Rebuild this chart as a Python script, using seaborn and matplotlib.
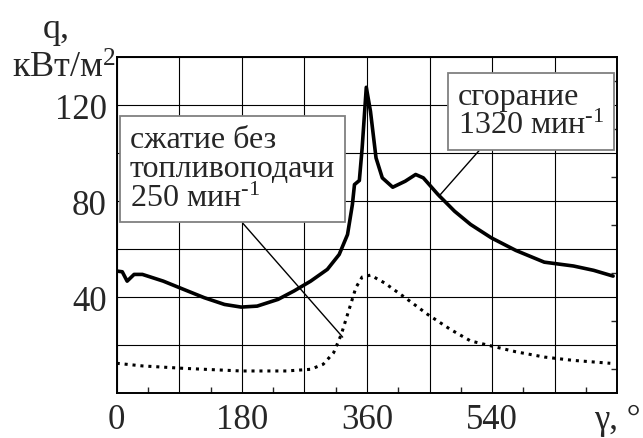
import numpy as np
import pandas as pd
import seaborn as sns
from matplotlib import pyplot as plt
from matplotlib.ticker import MultipleLocator

# combustion, 1320 rpm (solid)
angle_fire = [0, 8, 15, 25, 37, 67, 96, 126, 155, 179, 202, 232, 255, 279, 303,
              320, 332, 339, 342, 349, 353, 359, 365, 373, 382, 397, 415, 430,
              441, 462, 486, 509, 539, 574, 615, 657, 686, 714]
q_fire = [50.9, 50.6, 46.7, 49.5, 49.5, 46.7, 43.3, 39.8, 37.0, 35.9, 36.3, 39.1,
          42.6, 46.7, 51.6, 57.8, 66.1, 78.6, 86.9, 88.6, 102.0, 127.4, 117.4,
          98.0, 89.7, 85.8, 88.3, 91.1, 89.7, 82.8, 75.8, 70.3, 64.7, 59.5,
          54.6, 53.0, 51.2, 48.8]

# motoring without fuel, 250 rpm (dotted)
angle_motor = [0, 37, 96, 179, 244, 279, 297, 312, 323, 335, 344, 353, 365, 385,
               415, 447, 480, 509, 539, 574, 615, 657, 710]
q_motor = [12.5, 11.4, 10.4, 9.3, 9.3, 10.0, 12.1, 16.9, 24.5, 35.6, 44.0, 48.4,
           49.2, 46.0, 39.8, 32.9, 26.6, 21.8, 19.7, 17.3, 15.1, 13.7, 12.5]

x_ticks = list(range(0, 721, 90))
x_labels = ['0', '', '180', '', '360', '', '540', '', 'γ, °']
y_ticks = list(range(0, 141, 20))
y_labels = ['', '', '40', '', '80', '', '120', '']

fire = pd.DataFrame({'angle': angle_fire, 'q': q_fire})
motor = pd.DataFrame({'angle': angle_motor, 'q': q_motor})

sns.set_style('white')
plt.rcParams['font.family'] = ['Liberation Serif', 'DejaVu Serif']
plt.rcParams['mathtext.fontset'] = 'custom'
plt.rcParams['mathtext.rm'] = 'Liberation Serif'
plt.rcParams['mathtext.it'] = 'Liberation Serif:italic'
plt.rcParams['mathtext.bf'] = 'Liberation Serif:bold'

fig = plt.figure(figsize=(6.43, 4.39), dpi=100)
ax = fig.add_axes([0.1815, 0.1018, 0.7785, 0.766])

sns.lineplot(data=fire, x='angle', y='q', ax=ax, color='black', lw=2.6)
sns.lineplot(data=motor, x='angle', y='q', ax=ax, color='black', lw=2.2)
ax.lines[-1].set_linestyle((0, (1, 1.6)))

ax.set_xlim(0, 720)
ax.set_ylim(0, 140)
ax.set_xticks(x_ticks)
ax.set_xticklabels(x_labels)
ax.set_yticks(y_ticks)
ax.set_yticklabels(y_labels)
ax.xaxis.set_minor_locator(MultipleLocator(45))
ax.yaxis.set_minor_locator(MultipleLocator(10))
ax.tick_params(which='major', length=0, labelsize=25, pad=7)
ax.tick_params(which='minor', direction='in', length=4, width=1,
               bottom=True, right=True, left=False, top=False)
ax.grid(True, color='black', lw=0.8)
ax.set_axisbelow(True)
for s in ax.spines.values():
    s.set_color('black')
    s.set_linewidth(1.4)
ax.set_xlabel('')
ax.set_ylabel('')

sup = r'$\mathregular{^{\text{-}1}}$'
box = dict(boxstyle='square,pad=0.3', fc='white', ec='#808080', lw=1.3)
ax.annotate('сжатие без\nтопливоподачи\n250 мин' + sup, xy=(325, 23.4), xytext=(19, 111.5),
            textcoords='data', ha='left', va='top', fontsize=23, bbox=box,
            linespacing=1.0,
            arrowprops=dict(arrowstyle='-', color='black', lw=1,
                            relpos=(0.505, 0), shrinkA=0, shrinkB=0))
ax.annotate('сгорание\n1320 мин' + sup, xy=(463, 81.9), xytext=(491, 129.5),
            textcoords='data', ha='left', va='top', fontsize=23, bbox=box,
            linespacing=1.0,
            arrowprops=dict(arrowstyle='-', color='black', lw=1,
                            relpos=(0.205, 0), shrinkA=0, shrinkB=0))

fig.text(0.088, 0.914, 'q,', fontsize=26, ha='center', va='baseline')
fig.text(0.099, 0.822, 'кВт/м$\\mathregular{^2}$', fontsize=26, ha='center', va='baseline')

fig.savefig('out.png', dpi=100)
